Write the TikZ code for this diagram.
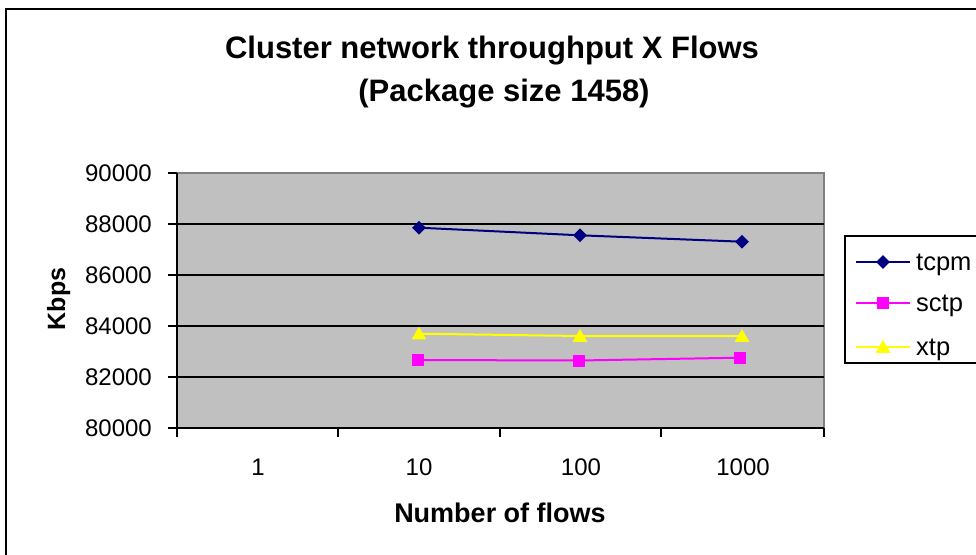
\documentclass[tikz,border=0pt]{standalone}
\usepackage{fontspec}
\setmainfont{Liberation Sans}
\usetikzlibrary{shapes.geometric}
\definecolor{plotgray}{RGB}{192,192,192}
\definecolor{framegray}{RGB}{128,128,128}
\definecolor{sernavy}{RGB}{0,0,128}
\definecolor{sermag}{RGB}{255,0,255}
\definecolor{seryel}{RGB}{255,255,0}
\begin{document}
\begin{tikzpicture}[x=1pt,y=-1pt,
  titletext/.style={anchor=base,font=\bfseries\fontsize{31}{37}\selectfont},
  axtitle/.style={anchor=base,font=\bfseries\fontsize{27}{32}\selectfont},
  ticklab/.style={font=\fontsize{24}{29}\selectfont,inner sep=0pt},
  legtext/.style={anchor=base west,font=\fontsize{25.5}{30}\selectfont,inner sep=0pt},
  grid line/.style={black,line width=1.6pt},
  axis line/.style={black,line width=1.6pt},
  frameline/.style={black,line width=2pt},
  tcpmline/.style={sernavy,line width=2pt},
  sctpline/.style={sermag,line width=2pt},
  xtpline/.style={seryel,line width=2pt},
  tcpmmark/.style={diamond,fill=sernavy,inner sep=0pt,minimum size=14pt},
  sctpmark/.style={rectangle,fill=sermag,inner sep=0pt,minimum size=12pt},
  xtpmark/.style={regular polygon,regular polygon sides=3,fill=seryel,inner sep=0pt,minimum size=17pt,yshift=-1.5pt},
]
\useasboundingbox (0,0) rectangle (976,554);
\fill[white] (0,0) rectangle (976,554);
% outer chart frame
\draw[frameline] (6,570) -- (6,9) -- (990,9);
% plot area
\fill[plotgray] (177,173) rectangle (824,428);
\draw[framegray,line width=1.2pt] (177,173) -- (824,173) -- (824,428);
% grid lines
\foreach \yy in {224,275,326,377}
  \draw[grid line] (177,\yy) -- (824,\yy);
% axes
\draw[axis line] (177,173) -- (177,428) -- (824,428);
\foreach \yy in {173,224,275,326,377,428}
  \draw[axis line] (168,\yy) -- (177,\yy);
\foreach \xx in {177,338,500,661,824}
  \draw[axis line] (\xx,428) -- (\xx,437);
% y tick labels
\node[ticklab,anchor=base east] (y90) at (152,181.5) {90000};
\node[ticklab,anchor=base east] (y88) at (152,232.5) {88000};
\node[ticklab,anchor=base east] (y86) at (152,283.5) {86000};
\node[ticklab,anchor=base east] (y84) at (152,334.5) {84000};
\node[ticklab,anchor=base east] (y82) at (152,385.5) {82000};
\node[ticklab,anchor=base east] (y80) at (152,436.5) {80000};
% x tick labels
\node[ticklab,anchor=base] (x1) at (258,475) {1};
\node[ticklab,anchor=base] (x10) at (419,475) {10};
\node[ticklab,anchor=base] (x100) at (581,475) {100};
\node[ticklab,anchor=base] (x1000) at (743,475) {1000};
% titles
\node[titletext] (t1) at (492,58) {Cluster network throughput X Flows};
\node[titletext] (t2) at (504,101) {(Package size 1458)};
\node[axtitle] (xtitle) at (500,522) {Number of flows};
\node[axtitle,rotate=90,font=\bfseries\fontsize{25}{30}\selectfont] (ytitle) at (65,299) {Kbps};
% data points
\coordinate (a1) at (419,227.7);
\coordinate (a2) at (580,235.3);
\coordinate (a3) at (742,241.7);
\coordinate (b1) at (418,360);
\coordinate (b2) at (579,360.5);
\coordinate (b3) at (740,357.7);
\coordinate (c1) at (419,333.7);
\coordinate (c2) at (580,336);
\coordinate (c3) at (742,336);
\draw[xtpline] (c1) -- (c2) -- (c3);
\draw[sctpline] (b1) -- (b2) -- (b3);
\draw[tcpmline] (a1) -- (a2) -- (a3);
\foreach \p in {a1,a2,a3} \node[tcpmmark] at (\p) {};
\foreach \p in {b1,b2,b3} \node[sctpmark] at (\p) {};
\foreach \p in {c1,c2,c3} \node[xtpmark] at (\p) {};
% legend
\draw[frameline] (845,236) rectangle (995,363);
\coordinate (la0) at (856,262); \coordinate (la1) at (910,262);
\coordinate (lb0) at (856,303); \coordinate (lb1) at (910,303);
\coordinate (lc0) at (856,347); \coordinate (lc1) at (910,347);
\coordinate (lam) at (883,262);
\coordinate (lbm) at (883,303);
\coordinate (lcm) at (883,347);
\draw[tcpmline] (la0) -- (la1);
\draw[sctpline] (lb0) -- (lb1);
\draw[xtpline] (lc0) -- (lc1);
\node[tcpmmark] (lgm1) at (lam) {};
\node[sctpmark] (lgm2) at (lbm) {};
\node[xtpmark] (lgm3) at (lcm) {};
\node[legtext] (lg1) at (916,270) {tcpm};
\node[legtext] (lg2) at (916,311) {sctp};
\node[legtext] (lg3) at (916,355) {xtp};
\end{tikzpicture}
\end{document}
